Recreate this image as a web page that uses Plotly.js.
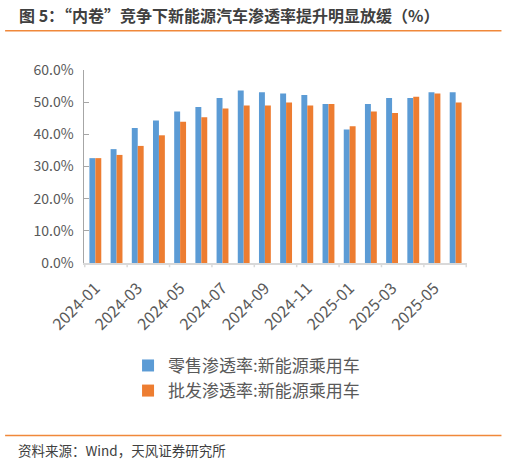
<!DOCTYPE html>
<html><head><meta charset="utf-8">
<script src="https://cdn.plot.ly/plotly-3.0.1.min.js"></script>
<style>html,body{margin:0;padding:0;background:#fff;}#c{width:508px;height:465px;}</style>
</head><body><div id="c"></div>
<script>
const months = ["2024-01","2024-02","2024-03","2024-04","2024-05","2024-06","2024-07","2024-08","2024-09","2024-10","2024-11","2024-12","2025-01","2025-02","2025-03","2025-04","2025-05","2025-06"];
const retail = [32.6,35.4,42.0,44.3,47.1,48.5,51.3,53.6,53.1,52.7,52.2,49.4,41.5,49.4,51.3,51.3,53.1,53.1];
const wholesale = [32.6,33.6,36.4,39.7,43.9,45.3,48.0,49.0,49.0,49.9,49.0,49.4,42.5,47.1,46.6,51.7,52.7,49.9];
const tickLabels = ["2024-01","2024-03","2024-05","2024-07","2024-09","2024-11","2025-01","2025-03","2025-05"];
const yTicks = [0,10,20,30,40,50,60];
const yTickText = ["0.0%","10.0%","20.0%","30.0%","40.0%","50.0%","60.0%"];
const seriesNames = ["零售渗透率:新能源乘用车","批发渗透率:新能源乘用车"];
const titleText = "图 5：“内卷”竞争下新能源汽车渗透率提升明显放缓（%）";
const sourceText = "资料来源：Wind，天风证券研究所";

const F = '"Noto Sans CJK SC", "Noto Sans", sans-serif';
const traces = [
  {type:'bar', x:months, y:retail, name:seriesNames[0], marker:{color:'#5B9BD5'}},
  {type:'bar', x:months, y:wholesale, name:seriesNames[1], marker:{color:'#ED7D31'}}
];
const layout = {
  width:508, height:465,
  margin:{l:84, r:41, t:70, b:201.5},
  paper_bgcolor:'#fff', plot_bgcolor:'#fff',
  barmode:'group', bargap:0.44, bargroupgap:0,
  font:{family:F, color:'#595959'},
  showlegend:true,
  legend:{x:0.115, y:-0.44, xanchor:'left', yanchor:'top', font:{size:17, color:'#595959'}, traceorder:'normal', tracegroupgap:4},
  xaxis:{type:'category', tickmode:'array', tickvals:tickLabels, ticktext:tickLabels, tickangle:-45,
    tickfont:{size:16, color:'#595959'}, showline:true, linecolor:'#D9D9D9', linewidth:1.5,
    ticks:'', showgrid:false, zeroline:false, ticklabelstandoff:8},
  yaxis:{range:[0,60], tickvals:yTicks, ticktext:yTickText, tickfont:{size:14, color:'#595959'},
    showline:true, linecolor:'#A6A6A6', linewidth:1.5, ticks:'inside', ticklen:5, tickcolor:'#A6A6A6',
    showgrid:false, zeroline:false, ticklabelstandoff:6},
  shapes:[
    {type:'line', xref:'paper', yref:'paper', x0:-0.206, x1:1.09, y0:1.204, y1:1.204, line:{color:'#F0883A', width:1.5}},
    {type:'line', xref:'paper', yref:'paper', x0:-0.206, x1:1.09, y0:-0.894, y1:-0.894, line:{color:'#F0883A', width:1.5}}
  ],
  annotations:[
    {text:titleText, xref:'paper', yref:'paper', x:-0.175, y:1.285, xanchor:'left', yanchor:'middle', showarrow:false,
      font:{size:16, color:'#404040', family:F, weight:'bold'}},
    {text:sourceText, xref:'paper', yref:'paper', x:-0.178, y:-0.969, xanchor:'left', yanchor:'middle', showarrow:false,
      font:{size:13.5, color:'#404040', family:F}}
  ]
};
for (let i = 0; i <= months.length; i += 2) {
  layout.shapes.push({type:'line', xref:'x', yref:'paper', x0:i-0.5, x1:i-0.5, y0:0, y1:-0.022, line:{color:'#D9D9D9', width:1.5}});
}
Plotly.newPlot('c', traces, layout, {displayModeBar:false, staticPlot:true});
</script></body></html>
